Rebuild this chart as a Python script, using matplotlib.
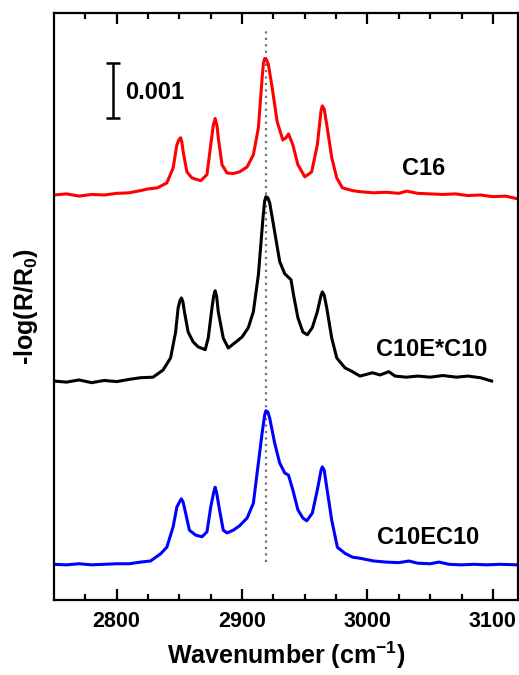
import matplotlib
matplotlib.use("Agg")
import matplotlib.pyplot as plt

plt.rcParams['font.family'] = ['Liberation Sans', 'DejaVu Sans']
plt.rcParams['font.weight'] = 'bold'
plt.rcParams['mathtext.fontset'] = 'custom'
plt.rcParams['mathtext.rm'] = 'Liberation Sans:bold'
plt.rcParams['mathtext.bf'] = 'Liberation Sans:bold'

# spectra, y in units of 0.001 (offset stack)
wn_c16 = [2750, 2760, 2770, 2780, 2790, 2800, 2810, 2819, 2825, 2832.5, 2840, 2845, 2848, 2849.5, 2851,
          2852, 2853, 2856, 2860, 2867, 2872, 2875, 2877, 2878.5, 2880, 2881, 2884, 2888, 2893, 2898,
          2904, 2909, 2913, 2916, 2917, 2918, 2919.5, 2921, 2924, 2928, 2932.5, 2935, 2937, 2940.5,
          2944.5, 2950, 2955.5, 2960, 2963, 2964, 2965.5, 2967.5, 2971.5, 2975.5, 2980, 2988, 2994,
          3005, 3015, 3025, 3031, 3040, 3050, 3060, 3070, 3080, 3090, 3100, 3110, 3120]
c16 = [7.36, 7.38, 7.34, 7.37, 7.36, 7.39, 7.40, 7.44, 7.47, 7.49, 7.58, 7.85, 8.27, 8.36, 8.40,
       8.32, 8.15, 7.78, 7.67, 7.62, 7.73, 8.27, 8.62, 8.75, 8.62, 8.40, 7.91, 7.76, 7.75, 7.78,
       7.87, 8.09, 8.58, 9.49, 9.75, 9.84, 9.82, 9.73, 9.31, 8.69, 8.36, 8.40, 8.47, 8.27,
       7.91, 7.69, 7.78, 8.27, 8.90, 8.98, 8.92, 8.64, 8.04, 7.67, 7.49, 7.44, 7.42,
       7.40, 7.41, 7.39, 7.43, 7.39, 7.38, 7.37, 7.38, 7.35, 7.36, 7.33, 7.34, 7.29]

wn_c10es = [2750, 2760, 2770, 2780, 2790, 2800, 2810, 2819, 2829, 2837, 2843, 2847, 2849, 2850.5,
            2851.6, 2852.8, 2854, 2857, 2861, 2865, 2870.6, 2873, 2876, 2877.3, 2878.5, 2879.7, 2881,
            2885, 2889, 2894, 2900, 2905, 2909, 2913, 2916.7, 2918, 2919, 2920.5, 2922, 2926, 2930,
            2934, 2939, 2941, 2944.5, 2948.5, 2952, 2956, 2960, 2963, 2964, 2965.5, 2967.5, 2971.5,
            2975.5, 2982, 2988, 2994, 3004, 3010, 3017, 3022, 3031, 3040, 3050, 3060, 3071, 3080,
            3090, 3099]
c10es = [3.98, 3.96, 4.00, 3.95, 3.99, 3.97, 4.01, 4.04, 4.05, 4.18, 4.40, 4.87, 5.31, 5.44,
         5.49, 5.42, 5.24, 4.87, 4.69, 4.60, 4.55, 4.76, 5.31, 5.52, 5.62, 5.52, 5.24,
         4.76, 4.58, 4.67, 4.78, 4.95, 5.24, 5.91, 6.95, 7.25, 7.33, 7.31, 7.22, 6.69, 6.15,
         5.93, 5.82, 5.55, 5.13, 4.87, 4.82, 4.95, 5.24, 5.54, 5.60, 5.54, 5.31, 4.76,
         4.40, 4.22, 4.15, 4.07, 4.13, 4.09, 4.15, 4.07, 4.05, 4.07, 4.05, 4.08, 4.05, 4.07,
         4.04, 3.98]

wn_c10e = [2750, 2760, 2770, 2780, 2790, 2800, 2810, 2819, 2827, 2835, 2840, 2845, 2848, 2850.5,
           2851.6, 2853, 2855, 2858, 2863, 2868, 2872, 2875, 2877.3, 2878.5, 2879.7, 2882, 2885,
           2888, 2893, 2898, 2904, 2909, 2912, 2916, 2918, 2919, 2920.5, 2922, 2926, 2930, 2934,
           2937, 2940.5, 2944.5, 2948.5, 2951.6, 2956, 2960, 2963, 2964, 2965.5, 2967.5, 2971.5,
           2976, 2982, 2988, 2994, 3005, 3015, 3025, 3033, 3040, 3050, 3057, 3065, 3075, 3085,
           3095, 3105, 3120]
c10e = [0.65, 0.64, 0.66, 0.64, 0.65, 0.66, 0.66, 0.69, 0.71, 0.84, 0.96, 1.33, 1.69, 1.80,
        1.84, 1.78, 1.58, 1.27, 1.18, 1.15, 1.24, 1.69, 1.95, 2.05, 1.95, 1.64, 1.27,
        1.22, 1.27, 1.35, 1.49, 1.76, 2.31, 3.04, 3.36, 3.44, 3.42, 3.31, 2.85, 2.49, 2.31,
        2.27, 2.00, 1.64, 1.49, 1.44, 1.58, 2.00, 2.36, 2.42, 2.36, 2.05, 1.45,
        0.96, 0.85, 0.78, 0.76, 0.71, 0.69, 0.68, 0.71, 0.67, 0.66, 0.69, 0.65, 0.64, 0.65,
        0.64, 0.65, 0.64]

names = ['C16', 'C10E*C10', 'C10EC10']
label_x = [3045, 3051, 3048]
label_y = [7.85, 4.55, 1.13]
colors = ['#ff0000', '#000000', '#0000ff']
ref_line = 2919

fig = plt.figure(figsize=(5.19, 6.75), dpi=100)
ax = fig.add_axes([0.104, 0.111, 0.894, 0.870])

ax.axvline(ref_line, ymin=0.065, ymax=0.975, color='#707070', ls=(0, (1, 1.9)), lw=1.6, zorder=1)
for x, y, c in zip([wn_c16, wn_c10es, wn_c10e], [c16, c10es, c10e], colors):
    ax.plot(x, y, color=c, lw=2.2, zorder=2, solid_joinstyle='round')

for n, x, y in zip(names, label_x, label_y):
    ax.text(x, y, n, ha='center', va='center', fontsize=17, fontweight='bold')

# scale bar 0.001
ax.errorbar([2797], [9.25], yerr=[0.5], color='black', capsize=5, elinewidth=1.8, capthick=1.8)
ax.text(2807, 9.22, '0.001', ha='left', va='center', fontsize=17, fontweight='bold')

ax.set_xlim(2750, 3120)
ax.set_ylim(0, 10.67)
ax.set_xticks([2800, 2900, 3000, 3100])
ax.set_xticks(range(2775, 3120, 25), minor=True)
ax.set_yticks([])
ax.tick_params(axis='x', which='both', direction='in', top=True, width=1.6, labelsize=15.5, pad=8)
ax.tick_params(axis='x', which='major', length=8)
ax.tick_params(axis='x', which='minor', length=4)
for s in ax.spines.values():
    s.set_linewidth(1.6)

ax.set_xlabel('Wavenumber (cm$^{\\mathbf{-1}}$)', fontsize=18, fontweight='bold', labelpad=5)
ax.set_ylabel('-log(R/R$_{\\mathbf{0}}$)', fontsize=18, fontweight='bold', labelpad=10)

fig.savefig('out.png', dpi=100)
